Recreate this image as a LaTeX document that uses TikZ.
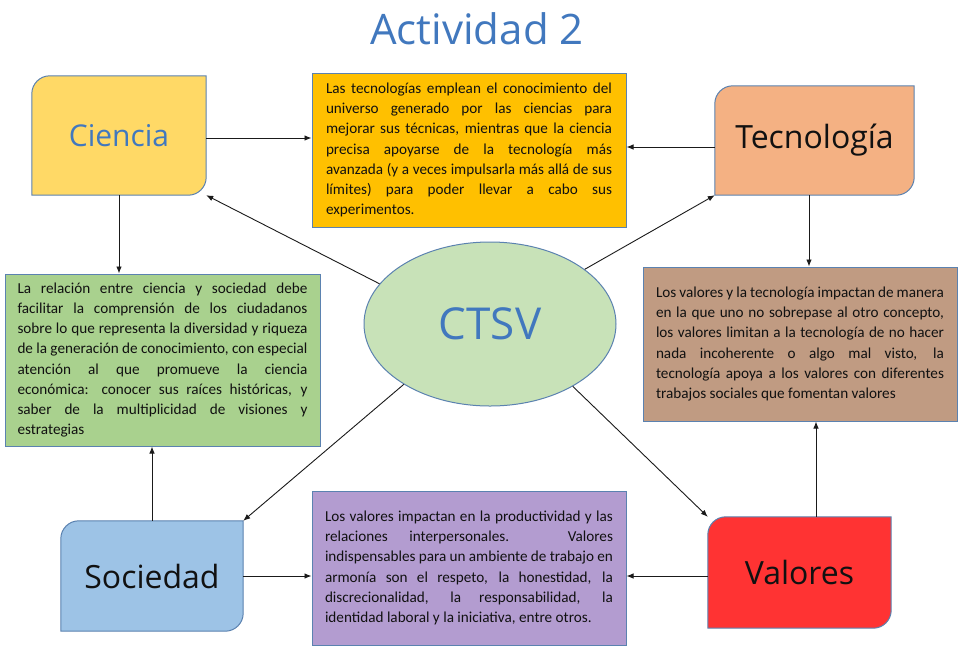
\documentclass[tikz,border=0pt]{standalone}
\usepackage{fontspec}
\setmainfont{Carlito}
\newfontfamily\headfont{Open Sans}
\usetikzlibrary{arrows.meta,shapes.geometric,calc,backgrounds}
\definecolor{bluet}{HTML}{4178BE}
\definecolor{edgec}{HTML}{5B82B0}
\definecolor{arrowc}{HTML}{1A1A1A}
\definecolor{txtc}{HTML}{111111}
\definecolor{cienf}{HTML}{FFD966}
\definecolor{tecf}{HTML}{F4B183}
\definecolor{socf}{HTML}{9DC3E6}
\definecolor{valf}{HTML}{FF3333}
\definecolor{yelf}{HTML}{FFC000}
\definecolor{grnf}{HTML}{A9D18E}
\definecolor{brnf}{HTML}{C09B82}
\definecolor{purf}{HTML}{B39CD0}
\definecolor{ellf}{HTML}{C8E2B8}
\newcommand{\twocorner}[2]{\draw[edge, fill=#2] (#1.south west) -- ([yshift=-18pt]#1.north west) arc[start angle=180,end angle=90,radius=18pt] -- (#1.north east) -- ([yshift=18pt]#1.south east) arc[start angle=0,end angle=-90,radius=18pt] -- cycle;}
\newcommand{\boxfont}{\fontsize{15.2}{20.2}\selectfont\hyphenpenalty10000 \exhyphenpenalty10000 }
\begin{document}
\begin{tikzpicture}[x=1pt,y=-1pt,
  arr/.style={draw=arrowc, line width=0.9pt, -{Latex[length=7pt,width=5.5pt]}},
  edge/.style={draw=edgec, line width=1pt},
  boxtxt/.style={rectangle, edge, inner ysep=0pt, align=justify, text=txtc, font=\boxfont},
  headbox/.style={inner sep=0pt, font=\headfont\fontsize{30}{34}\selectfont},
  headbig/.style={inner sep=0pt, font=\headfont\fontsize{32}{36}\selectfont, text=txtc}
]
\path[use as bounding box] (0,0) rectangle (962,657);

\node[inner sep=0pt, font=\headfont\fontsize{42}{46}\selectfont, text=bluet] (title) at (477,29) {Actividad 2};

% main shapes
\node[headbox, text=bluet, minimum width=174pt, minimum height=119pt] (cien) at (119,135.5) {Ciencia};
\node[headbox, font=\headfont\fontsize{32}{36}\selectfont, text=txtc, minimum width=199pt, minimum height=109pt] (tec) at (814.5,140.5) {Tecnología};
\node[headbig, minimum width=182pt, minimum height=110pt] (soc) at (152,576) {Sociedad};
\node[headbig, minimum width=183pt, minimum height=111pt] (val) at (799.5,572.5) {Valores};
\node[ellipse, edge, fill=ellf, inner sep=0pt, minimum width=252pt, minimum height=164pt,
  font=\headfont\fontsize{44}{48}\selectfont, text=bluet] (ctsv) at (490,324) {CTSV};

\begin{scope}[on background layer]
\fill[white] (0,0) rectangle (962,657);
\twocorner{cien}{cienf}
\twocorner{tec}{tecf}
\twocorner{soc}{socf}
\twocorner{val}{valf}
\end{scope}

% text boxes
\node[boxtxt, fill=yelf, text width=286pt, inner xsep=14pt, minimum height=154pt] (yel) at (469,150) {Las tecnologías emplean el conocimiento del\linebreak
universo generado por las ciencias para\linebreak
mejorar sus técnicas, mientras que la ciencia\linebreak
precisa apoyarse de la tecnología más\linebreak
avanzada (y a veces impulsarla más allá de sus\linebreak
límites) para poder llevar a cabo sus\linebreak
experimentos.};

\node[boxtxt, fill=grnf, text width=290pt, inner xsep=12.5pt, minimum height=172pt] (grn) at (162.5,360) {La relación entre ciencia y sociedad debe\linebreak
facilitar la comprensión de los ciudadanos\linebreak
sobre lo que representa la diversidad y riqueza\linebreak
de la generación de conocimiento, con especial\linebreak
atención al que promueve la ciencia\linebreak
económica: conocer sus raíces históricas, y\linebreak
saber de la multiplicidad de visiones y\linebreak
estrategias};

\node[boxtxt, fill=brnf, text width=288pt, inner xsep=13pt, minimum height=154pt] (brn) at (800,344) {Los valores y la tecnología impactan de manera\linebreak
en la que uno no sobrepase al otro concepto,\linebreak
los valores limitan a la tecnología de no hacer\linebreak
nada incoherente o algo mal visto, la\linebreak
tecnología apoya a los valores con diferentes\linebreak
trabajos sociales que fomentan valores};

\node[boxtxt, fill=purf, text width=288pt, inner xsep=13pt, minimum height=154pt] (pur) at (469,568) {Los valores impactan en la productividad y las\linebreak
relaciones interpersonales. Valores\linebreak
indispensables para un ambiente de trabajo en\linebreak
armonía son el respeto, la honestidad, la\linebreak
discrecionalidad, la responsabilidad, la\linebreak
identidad laboral y la iniciativa, entre otros.};

% connectors
\coordinate (c1) at ($(cien.east)+(0,2.5)$);
\draw[arr] (c1) -- (c1 -| yel.west);
\coordinate (t1) at ($(tec.west)+(0,6.5)$);
\draw[arr] (t1) -- (t1 -| yel.east);
\draw[arr] (cien.south) -- (cien.south |- grn.north);
\coordinate (t2) at ($(tec.south)+(-5.5,0)$);
\draw[arr] (t2) -- (t2 |- brn.north);
\draw[arr] (soc.north) -- (soc.north |- grn.south);
\draw[arr] (soc.east) -- (soc.east -| pur.west);
\coordinate (v1) at ($(val.west)+(0,3.5)$);
\draw[arr] (v1) -- (v1 -| pur.east);
\coordinate (v2) at ($(val.north)+(16.5,0)$);
\draw[arr] (v2) -- (v2 |- brn.south);
\draw[arr] (ctsv.160) -- (cien.south east);
\draw[arr] (ctsv.30) -- (tec.south west);
\draw[arr] (ctsv.215) -- (soc.north east);
\draw[arr] (ctsv.323) -- (val.north west);
\end{tikzpicture}
\end{document}
